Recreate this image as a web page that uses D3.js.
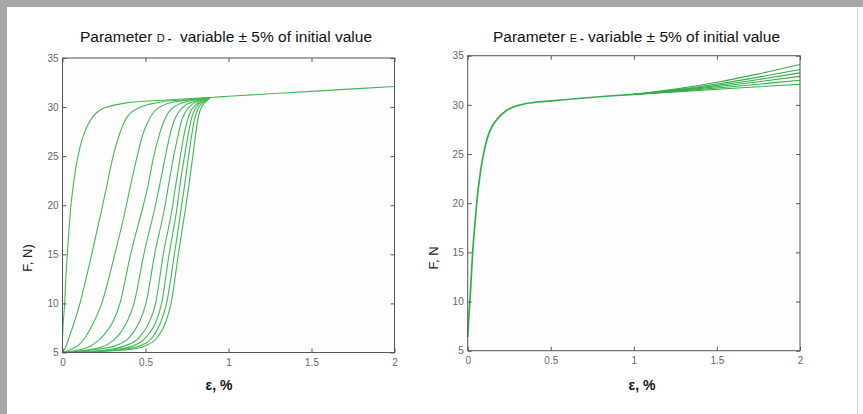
<!DOCTYPE html>
<html>
<head>
<meta charset="utf-8">
<script src="https://cdn.jsdelivr.net/npm/d3@7"></script>
<style>
  body { margin: 0; background: #fff; }
  svg { display: block; font-family: "Liberation Sans", Arial, sans-serif; }
</style>
</head>
<body>
<div id="chart"></div>
<script>
// Axis ticks
const xTicks = [0, 0.5, 1, 1.5, 2];
const yTicks = [5, 10, 15, 20, 25, 30, 35];

// Parameter D curves [strain %, force N]
const curveD1 = [[0,6.4],[0.003,7.6],[0.008,8.8],[0.013,10],[0.02,12.5],[0.029,15],[0.04,17.7],[0.051,20],[0.065,22],[0.08,23.8],[0.095,25.1],[0.11,26.2],[0.128,27.2],[0.15,28.1],[0.18,28.95],[0.226,29.7],[0.3,30.15],[0.386,30.43],[0.5,30.6],[0.6,30.7],[0.75,30.85],[0.89,30.98]];
const curveD2 = [[0,5],[0.02,5.6],[0.045,6.8],[0.075,8.3],[0.105,10],[0.14,12.4],[0.176,15],[0.21,17.6],[0.242,20],[0.262,21.6],[0.305,25],[0.335,26.8],[0.36,28],[0.39,29],[0.417,29.5],[0.47,30],[0.527,30.3],[0.6,30.55],[0.7,30.7],[0.8,30.82],[0.89,30.98]];
const curveD3 = [[0,5],[0.05,5.3],[0.1,5.8],[0.14,6.6],[0.18,7.8],[0.236,10],[0.315,15],[0.385,20],[0.405,21.6],[0.45,25],[0.48,27],[0.515,28.5],[0.55,29.5],[0.61,30.2],[0.7,30.6],[0.82,30.85],[0.89,30.98]];
const curveD4 = [[0,5],[0.08,5.2],[0.15,5.5],[0.2,6],[0.25,6.8],[0.3,8],[0.346,10],[0.41,15],[0.487,20],[0.51,21.6],[0.55,25],[0.58,27],[0.61,28.5],[0.64,29.5],[0.69,30.2],[0.76,30.6],[0.85,30.85],[0.89,30.98]];
const curveD5 = [[0,5],[0.1,5.15],[0.2,5.4],[0.28,5.9],[0.34,6.8],[0.385,8],[0.431,10],[0.49,15],[0.56,20],[0.58,21.6],[0.62,25],[0.645,27],[0.67,28.5],[0.7,29.5],[0.74,30.2],[0.8,30.6],[0.87,30.88],[0.89,30.98]];
const curveD6 = [[0,5],[0.1,5.1],[0.2,5.3],[0.32,5.7],[0.4,6.5],[0.46,8],[0.503,10],[0.555,15],[0.618,20],[0.634,21.6],[0.67,25],[0.695,27],[0.715,28.5],[0.74,29.5],[0.775,30.2],[0.82,30.6],[0.875,30.88],[0.89,30.98]];
const curveD7 = [[0,5],[0.15,5.1],[0.28,5.3],[0.38,5.7],[0.46,6.5],[0.52,8],[0.561,10],[0.607,15],[0.664,20],[0.678,21.6],[0.71,25],[0.73,27],[0.75,28.5],[0.77,29.5],[0.8,30.2],[0.84,30.6],[0.88,30.9],[0.89,30.98]];
const curveD8 = [[0,5],[0.18,5.1],[0.32,5.3],[0.43,5.7],[0.5,6.5],[0.56,8],[0.597,10],[0.642,15],[0.692,20],[0.704,21.6],[0.735,25],[0.755,27],[0.772,28.5],[0.79,29.5],[0.815,30.2],[0.85,30.6],[0.885,30.92],[0.89,30.98]];
const curveD9 = [[0,5],[0.2,5.1],[0.36,5.3],[0.47,5.7],[0.54,6.5],[0.59,8],[0.627,10],[0.674,15],[0.718,20],[0.732,21.6],[0.76,25],[0.777,27],[0.792,28.5],[0.808,29.5],[0.83,30.2],[0.86,30.6],[0.89,30.98]];
const curveD10 = [[0,5],[0.22,5.1],[0.4,5.3],[0.5,5.7],[0.57,6.5],[0.62,8],[0.654,10],[0.698,15],[0.744,20],[0.758,21.6],[0.785,25],[0.8,27],[0.813,28.5],[0.826,29.5],[0.845,30.2],[0.868,30.6],[0.89,30.98]];
const tailD = [[0.89,30.98],[1,31.1],[1.5,31.6],[2,32.1]];

// Parameter E: common rise (six overlapping runs), then six branches after 1 %
const headE = [[0,6.4],[0.005,8],[0.014,10.2],[0.022,12.7],[0.03,15],[0.042,17.6],[0.054,20],[0.072,22.6],[0.094,24.9],[0.11,26.1],[0.128,27.1],[0.15,27.9],[0.18,28.6],[0.235,29.45],[0.305,29.95],[0.4,30.25],[0.5,30.4],[0.7,30.7],[0.85,30.9],[1,31.07]];
const tailE1 = [[1,31.07],[1.25,31.6],[1.5,32.3],[1.75,33.15],[2,34.1]];
const tailE2 = [[1,31.07],[1.25,31.52],[1.5,32.12],[1.75,32.82],[2,33.6]];
const tailE3 = [[1,31.07],[1.25,31.47],[1.5,31.98],[1.75,32.58],[2,33.25]];
const tailE4 = [[1,31.07],[1.25,31.42],[1.5,31.85],[1.75,32.35],[2,32.9]];
const tailE5 = [[1,31.07],[1.25,31.37],[1.5,31.72],[1.75,32.1],[2,32.5]];
const tailE6 = [[1,31.07],[1.25,31.32],[1.5,31.58],[1.75,31.84],[2,32.1]];

const W = 863, H = 414;
const svg = d3.select("#chart")
  .append("svg")
  .attr("width", W)
  .attr("height", H);

// grey frame at top and left, faint line on the right
svg.append("rect").attr("x", 0).attr("y", 0).attr("width", W).attr("height", 7).attr("fill", "#a7a7a7");
svg.append("rect").attr("x", 0).attr("y", 0).attr("width", 7).attr("height", H).attr("fill", "#a7a7a7");
svg.append("line").attr("x1", 857.5).attr("x2", 857.5).attr("y1", 7).attr("y2", H)
  .attr("stroke", "#d4d4d4");

function drawPanel(p) {
  const x = d3.scaleLinear().domain([0, 2]).range([p.x0, p.x1]);
  const y = d3.scaleLinear().domain([5, 35]).range([p.y0, p.y1]);
  const g = svg.append("g");

  // plot background
  g.append("rect")
    .attr("x", p.x0).attr("y", p.y1)
    .attr("width", p.x1 - p.x0).attr("height", p.y0 - p.y1)
    .attr("fill", "#fcfdfc");

  const line = d3.line()
    .x(d => x(d[0]))
    .y(d => y(d[1]))
    .curve(d3.curveMonotoneX);

  g.selectAll("path.curve")
    .data(p.curves)
    .enter()
    .append("path")
    .attr("class", "curve")
    .attr("d", line)
    .attr("fill", "none")
    .attr("stroke", p.color)
    .attr("stroke-width", (d, i) => (p.widths ? p.widths[i] : 1.1));

  // axes, ticks pointing inward like matlab
  const fmt = d3.format("~g");
  g.append("g")
    .attr("transform", `translate(0, ${p.y0})`)
    .call(d3.axisBottom(x).tickValues(xTicks).tickSize(-4).tickSizeOuter(0).tickPadding(6).tickFormat(fmt));
  g.append("g")
    .attr("transform", `translate(${p.x0}, 0)`)
    .call(d3.axisLeft(y).tickValues(yTicks).tickSize(-4).tickSizeOuter(0).tickPadding(4).tickFormat(fmt));
  g.append("g")
    .attr("transform", `translate(0, ${p.y1})`)
    .call(d3.axisTop(x).tickValues(xTicks).tickSize(-4).tickSizeOuter(0).tickFormat(""));
  g.append("g")
    .attr("transform", `translate(${p.x1}, 0)`)
    .call(d3.axisRight(y).tickValues(yTicks).tickSize(-4).tickSizeOuter(0).tickFormat(""));

  g.selectAll(".domain").remove();
  g.selectAll(".tick line").attr("stroke", "#555");
  g.selectAll(".tick text")
    .attr("fill", "#666")
    .style("font-size", "10px");

  g.append("rect")
    .attr("x", p.x0).attr("y", p.y1)
    .attr("width", p.x1 - p.x0).attr("height", p.y0 - p.y1)
    .attr("fill", "none")
    .attr("stroke", "#555")
    .attr("stroke-width", 1);

  // title
  const t = g.append("text")
    .attr("x", p.titleX)
    .attr("y", p.titleY)
    .attr("text-anchor", "middle")
    .attr("fill", "#111")
    .style("white-space", "pre")
    .style("font-size", "15.5px");
  t.append("tspan").text("Parameter ");
  t.append("tspan").style("font-size", "11px").text(p.letter);
  t.append("tspan").style("font-size", "11px").style("font-weight", "bold").text(p.dash);
  t.append("tspan").text(p.rest);

  // y label
  g.append("text")
    .attr("transform", `translate(${p.yLabX}, ${p.yLabY}) rotate(-90)`)
    .attr("text-anchor", "middle")
    .attr("fill", "#222")
    .style("font-size", "13px")
    .text(p.yLabel);

  // x label
  g.append("text")
    .attr("x", p.xLabX)
    .attr("y", 390)
    .attr("text-anchor", "middle")
    .attr("fill", "#111")
    .style("font-size", "14px")
    .style("font-weight", "bold")
    .text("ε, %");
}

drawPanel({
  x0: 62.5, x1: 394.5, y0: 352.5, y1: 58,
  curves: [curveD1, curveD2, curveD3, curveD4, curveD5, curveD6, curveD7, curveD8, curveD9, curveD10, tailD],
  color: "#43b857",
  letter: "D", dash: " -", rest: "  variable ± 5% of initial value",
  titleX: 226, titleY: 42,
  yLabel: "F, N)", yLabX: 32, yLabY: 258,
  xLabX: 219
});

drawPanel({
  x0: 467.7, x1: 800, y0: 350.7, y1: 55.7,
  curves: [headE, tailE1, tailE2, tailE3, tailE4, tailE5, tailE6],
  widths: [1.7, 1.1, 1.1, 1.1, 1.1, 1.1, 1.1],
  color: "#33ae4b",
  letter: "E", dash: " -", rest: " variable ± 5% of initial value",
  titleX: 636.5, titleY: 42,
  yLabel: "F, N", yLabX: 438, yLabY: 258,
  xLabX: 642
});
</script>
</body>
</html>
